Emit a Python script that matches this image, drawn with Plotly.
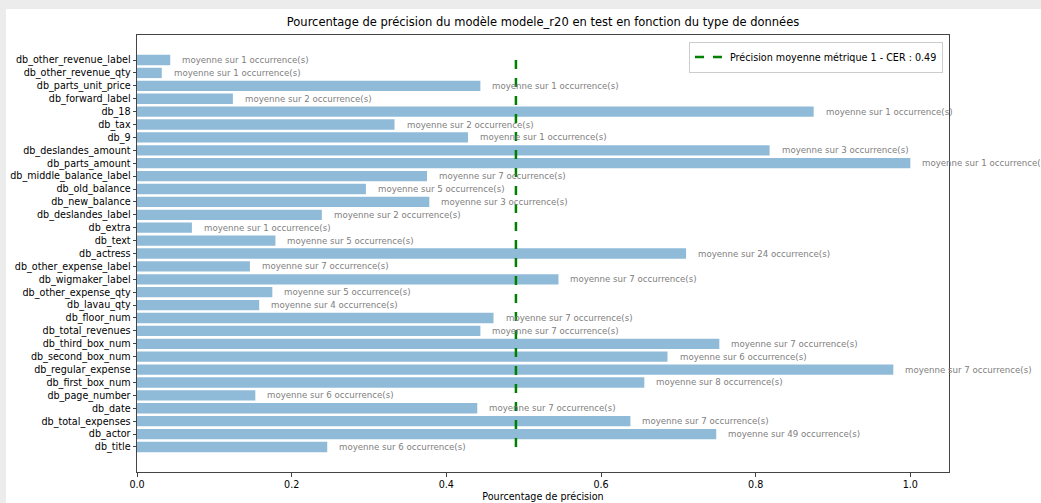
import plotly.graph_objects as go

categories = [
    "db_title", "db_actor", "db_total_expenses", "db_date", "db_page_number",
    "db_first_box_num", "db_regular_expense", "db_second_box_num", "db_third_box_num",
    "db_total_revenues", "db_floor_num", "db_lavau_qty", "db_other_expense_qty",
    "db_wigmaker_label", "db_other_expense_label", "db_actress", "db_text", "db_extra",
    "db_deslandes_label", "db_new_balance", "db_old_balance", "db_middle_balance_label",
    "db_parts_amount", "db_deslandes_amount", "db_9", "db_tax", "db_18",
    "db_forward_label", "db_parts_unit_price", "db_other_revenue_qty",
    "db_other_revenue_label",
]
precision = [
    0.246, 0.749, 0.638, 0.440, 0.153,
    0.656, 0.978, 0.686, 0.753,
    0.444, 0.461, 0.158, 0.175,
    0.545, 0.146, 0.710, 0.179, 0.071,
    0.239, 0.378, 0.296, 0.375,
    1.000, 0.818, 0.428, 0.333, 0.875,
    0.124, 0.444, 0.032,
    0.043,
]
occurrences = [
    6, 49, 7, 7, 6,
    8, 7, 6, 7,
    7, 7, 4, 5,
    7, 7, 24, 5, 1,
    2, 3, 5, 7,
    1, 3, 1, 2, 1,
    2, 1, 1,
    1,
]
mean_precision = 0.49
x_ticks = [0.0, 0.2, 0.4, 0.6, 0.8, 1.0]
x_tick_labels = ["0.0", "0.2", "0.4", "0.6", "0.8", "1.0"]

FONT = "DejaVu Sans"
idx = list(range(len(categories)))

fig = go.Figure()
fig.add_trace(go.Bar(
    y=idx, x=precision, orientation="h", width=0.8,
    marker=dict(color="rgba(31,119,180,0.5)", line=dict(width=0)),
    showlegend=False, hoverinfo="skip",
))
fig.add_trace(go.Scatter(
    x=[mean_precision, mean_precision], y=[idx[0], idx[-1]], mode="lines",
    line=dict(color="green", width=2.5, dash="dash"),
    name=f"Précision moyenne métrique 1 - CER : {mean_precision:.2f}",
))

for i, (v, n) in enumerate(zip(precision, occurrences)):
    fig.add_annotation(
        x=v, y=i, xref="x", yref="y", text=f"moyenne sur {n} occurrence(s)",
        showarrow=False, xanchor="left", yanchor="middle", xshift=10,
        font=dict(family=FONT, size=8.64, color="#808080"),
    )

# figure background (white area inside the grey border)
L, R, T, B = 137, 92, 35, 31
W, H = 1041, 503
pw, ph = W - L - R, H - T - B
fig.add_shape(
    type="rect", xref="paper", yref="paper", layer="below",
    x0=(6 - L) / pw, x1=(W - L) / pw, y0=-B / ph, y1=(H - T - 5) / ph,
    fillcolor="white", line=dict(width=0),
)

fig.update_layout(
    width=W, height=H,
    margin=dict(l=L, r=R, t=T, b=B, autoexpand=False),
    paper_bgcolor="#ececec", plot_bgcolor="white",
    font=dict(family=FONT, size=9.6, color="black"),
    title=dict(
        text="Pourcentage de précision du modèle modele_r20 en test en fonction du type de données",
        x=(L + pw / 2) / W, xanchor="center", y=1 - 22 / H, yanchor="middle",
        font=dict(family=FONT, size=11.5, color="black"),
    ),
    showlegend=True,
    legend=dict(
        x=0.9926, xanchor="right", y=0.985, yanchor="top",
        bgcolor="white", bordercolor="#cccccc", borderwidth=1,
        itemwidth=30,
        font=dict(family=FONT, size=9.6, color="black"),
    ),
    xaxis=dict(
        range=[0, 1.05], tickvals=x_ticks, ticktext=x_tick_labels,
        ticks="outside", ticklen=3.5, tickcolor="#444", tickwidth=1,
        showline=True, linecolor="#444", linewidth=1, mirror=True,
        showgrid=False, zeroline=False,
        title=dict(text="Pourcentage de précision", standoff=4,
                   font=dict(family=FONT, size=9.6, color="black")),
        tickfont=dict(family=FONT, size=9.6, color="black"),
    ),
    yaxis=dict(
        range=[-0.4 - 0.05 * 30.8, len(categories) - 0.6 + 0.05 * 30.8],
        tickvals=idx, ticktext=categories,
        ticks="outside", ticklen=3.5, tickcolor="#444", tickwidth=1,
        showline=True, linecolor="#444", linewidth=1, mirror=True,
        showgrid=False, zeroline=False,
        tickfont=dict(family=FONT, size=9.6, color="black"),
    ),
)

fig.write_html(
    "out.html",
    config={"displayModeBar": False},
    post_script="document.body.style.margin='0';document.body.style.overflow='hidden';",
)
